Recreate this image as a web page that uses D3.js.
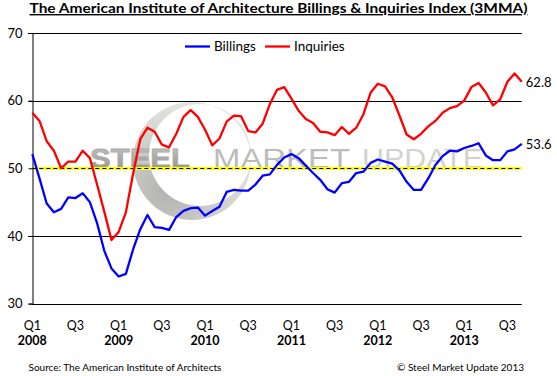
<!DOCTYPE html>
<html>
<head>
<meta charset="utf-8">
<script src="https://cdn.jsdelivr.net/npm/d3@7"></script>
<style>
  body { margin: 0; background: #fff; }
  svg { display: block; font-family: Lato, "Open Sans", sans-serif; }
</style>
</head>
<body>
<div id="chart"></div>
<script>
// AIA billings & inquiries, 3 month moving average, Jan 2008 - Sep 2013
var months = d3.timeMonths(new Date(2008, 0, 1), new Date(2013, 9, 1));

var billings = [
  52.1, 48.5, 44.8, 43.5, 44.0, 45.7, 45.6, 46.3, 45.0, 41.9, 37.8, 35.2,
  34.0, 34.4, 38.0, 41.0, 43.1, 41.3, 41.2, 40.9, 42.8, 43.7, 44.1, 44.2,
  43.0, 43.7, 44.3, 46.5, 46.8, 46.7, 46.7, 47.6, 48.9, 49.1, 50.5, 51.6,
  52.1, 51.5, 50.4, 49.3, 48.3, 46.9, 46.4, 47.8, 48.0, 49.3, 49.5, 50.8,
  51.3, 51.0, 50.7, 49.7, 48.0, 46.8, 46.8, 48.5, 50.5, 51.8, 52.6, 52.5,
  53.0, 53.3, 53.7, 51.9, 51.2, 51.2, 52.5, 52.8, 53.6
];

var inquiries = [
  58.2, 57.0, 54.0, 52.6, 50.0, 51.0, 51.0, 52.6, 51.5, 47.6, 43.6, 39.4,
  40.6, 43.5, 49.2, 54.3, 56.0, 55.4, 53.5, 53.1, 55.1, 57.6, 58.6, 57.6,
  55.7, 53.4, 54.4, 56.9, 57.8, 57.7, 55.5, 55.3, 56.6, 59.5, 61.6, 62.0,
  60.3, 58.5, 57.3, 56.7, 55.4, 55.3, 54.9, 56.1, 55.1, 56.0, 58.0, 61.2,
  62.5, 62.1, 60.5, 57.8, 55.0, 54.3, 55.1, 56.2, 57.0, 58.2, 58.9, 59.2,
  60.0, 62.0, 62.6, 61.2, 59.3, 60.2, 62.8, 64.0, 62.8
];

var yTicks = [30, 40, 50, 60, 70];
var quarterLabels = ["Q1", "Q3", "Q1", "Q3", "Q1", "Q3", "Q1", "Q3", "Q1", "Q3", "Q1", "Q3"];
var yearLabels = ["2008", "2009", "2010", "2011", "2012", "2013"];
var endLabels = ["62.8", "53.6"];

var W = 557, H = 376;
var plotL = 32.3, plotR = 521.8, plotT = 33, plotB = 303.6;

var svg = d3.select("#chart").append("svg").attr("width", W).attr("height", H);

var x = d3.scalePoint().domain(d3.range(months.length)).range([plotL, plotR]);
var y = d3.scaleLinear().domain([30, 70]).range([plotB, plotT]);

// title
svg.append("text")
  .attr("x", 278.5).attr("y", 13)
  .attr("text-anchor", "middle")
  .attr("textLength", 498).attr("lengthAdjust", "spacingAndGlyphs")
  .style("font-size", "14px").style("font-weight", "bold")
  .style("text-decoration", "underline")
  .text("The American Institute of Architecture Billings & Inquiries Index (3MMA)");

// watermark
var wm = svg.append("g").attr("class", "watermark");
var defs = svg.append("defs");
var grad = defs.append("radialGradient").attr("id", "swoosh")
  .attr("cx", "30%").attr("cy", "75%").attr("r", "75%");
grad.append("stop").attr("offset", "0%").attr("stop-color", "#a4a4a0");
grad.append("stop").attr("offset", "100%").attr("stop-color", "#dededa");
var steelGrad = defs.append("linearGradient").attr("id", "steel")
  .attr("x1", 0).attr("y1", 0).attr("x2", 0).attr("y2", 1);
steelGrad.append("stop").attr("offset", "0%").attr("stop-color", "#c8c8c4");
steelGrad.append("stop").attr("offset", "100%").attr("stop-color", "#8e8e8a");

var arcPath = d3.path();
arcPath.arc(192, 161, 59, 0, Math.PI * 2);
arcPath.moveTo(200 + 51, 155);
arcPath.arc(200, 155, 51, 0, Math.PI * 2);
wm.append("path").attr("d", arcPath.toString())
  .attr("fill", "url(#swoosh)").attr("fill-rule", "evenodd").attr("opacity", 0.85);

wm.append("text").attr("x", 90).attr("y", 168)
  .attr("textLength", 100).attr("lengthAdjust", "spacingAndGlyphs")
  .style("font-family", "'Liberation Sans', Arial, sans-serif")
  .style("font-size", "28px").style("font-weight", "bold")
  .attr("fill", "url(#steel)").attr("stroke", "#a8a8a4").attr("stroke-width", 0.8)
  .text("STEEL");
wm.append("text").attr("x", 213).attr("y", 168)
  .attr("textLength", 137).attr("lengthAdjust", "spacingAndGlyphs")
  .style("font-family", "'Liberation Sans', Arial, sans-serif")
  .style("font-size", "28px")
  .attr("fill", "#bcbcb8").text("MARKET");
wm.append("text").attr("x", 362).attr("y", 168)
  .attr("textLength", 121).attr("lengthAdjust", "spacingAndGlyphs")
  .style("font-family", "'Liberation Sans', Arial, sans-serif")
  .style("font-size", "28px")
  .attr("fill", "#d2d2ce").text("UPDATE");

// gridlines
svg.append("g").selectAll("line")
  .data(yTicks.filter(function (d) { return d !== 30 && d !== 50; }))
  .enter().append("line")
  .attr("x1", plotL - 4).attr("x2", plotR)
  .attr("y1", function (d) { return Math.round(y(d)) + 0.5; })
  .attr("y2", function (d) { return Math.round(y(d)) + 0.5; })
  .attr("stroke", "#000").attr("stroke-width", 1);

// 50 line: yellow with black dashes
var y50 = Math.round(y(50)) + 0.5;
svg.append("line").attr("x1", plotL).attr("x2", plotR).attr("y1", y50).attr("y2", y50)
  .attr("stroke", "#ffff00").attr("stroke-width", 3);
svg.append("line").attr("x1", plotL).attr("x2", plotR).attr("y1", y50).attr("y2", y50)
  .attr("stroke", "#000").attr("stroke-width", 1).attr("stroke-dasharray", "4,3");

// axes
var yAxis = d3.axisLeft(y).tickValues(yTicks).tickSize(4).tickPadding(6);
var gy = svg.append("g").attr("transform", "translate(" + (Math.round(plotL) + 0.5) + ",0)").call(yAxis);
gy.select(".domain").attr("stroke", "#000");
gy.selectAll(".tick line").attr("stroke", "#000");
gy.selectAll("text").style("font-size", "13px").style("font-family", "Lato, sans-serif").attr("fill", "#000");

svg.append("line").attr("x1", plotL).attr("x2", plotR)
  .attr("y1", Math.round(plotB) + 0.5).attr("y2", Math.round(plotB) + 0.5)
  .attr("stroke", "#000");

var tickIdx = quarterLabels.map(function (d, i) { return i * 6; });
var gx = svg.append("g");
gx.selectAll("text.q").data(tickIdx).enter().append("text")
  .attr("class", "q")
  .attr("x", function (d) { return x(d); }).attr("y", 330)
  .attr("text-anchor", "middle").style("font-size", "12.5px")
  .text(function (d, i) { return quarterLabels[i]; });
gx.selectAll("text.yr").data(yearLabels).enter().append("text")
  .attr("class", "yr")
  .attr("x", function (d, i) { return x(i * 12); }).attr("y", 344.5)
  .attr("text-anchor", "middle").style("font-size", "12.5px").style("font-weight", "bold")
  .text(function (d) { return d; });

// lines
var line = d3.line()
  .x(function (d, i) { return x(i); })
  .y(function (d) { return y(d); });

svg.append("path").datum(billings).attr("d", line)
  .attr("fill", "none").attr("stroke", "#0000ff").attr("stroke-width", 2.3)
  .attr("stroke-linejoin", "round");
svg.append("path").datum(inquiries).attr("d", line)
  .attr("fill", "none").attr("stroke", "#ff0000").attr("stroke-width", 2.3)
  .attr("stroke-linejoin", "round");

// end value labels
var last = months.length - 1;
svg.append("text").attr("x", plotR + 4).attr("y", y(inquiries[last]) + 5)
  .style("font-size", "13px").text(endLabels[0]);
svg.append("text").attr("x", plotR + 4).attr("y", y(billings[last]) + 5)
  .style("font-size", "13px").text(endLabels[1]);

// legend
var legend = [
  { name: "Billings", color: "#0000ff", x: 185 },
  { name: "Inquiries", color: "#ff0000", x: 265 }
];
var lg = svg.append("g").selectAll("g").data(legend).enter().append("g");
lg.append("line")
  .attr("x1", function (d) { return d.x; }).attr("x2", function (d) { return d.x + 25; })
  .attr("y1", 46.5).attr("y2", 46.5)
  .attr("stroke", function (d) { return d.color; }).attr("stroke-width", 2.3);
lg.append("text")
  .attr("x", function (d) { return d.x + 29; }).attr("y", 51)
  .style("font-size", "13.5px")
  .text(function (d) { return d.name; });

// footer
svg.append("text").attr("x", 28.5).attr("y", 371)
  .style("font-size", "10px").text("Source: The American Institute of Architects");
svg.append("text").attr("x", 524).attr("y", 371).attr("text-anchor", "end")
  .style("font-size", "10px").text("\u00a9 Steel Market Update 2013");
</script>
</body>
</html>
